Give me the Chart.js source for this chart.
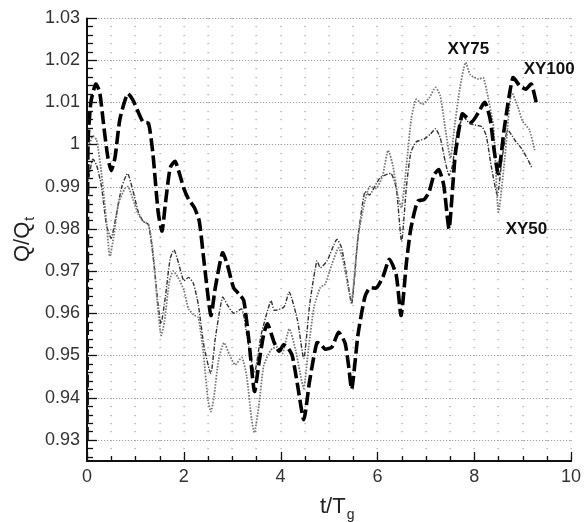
<!DOCTYPE html>
<html><head><meta charset="utf-8">
<script src="https://cdn.jsdelivr.net/npm/chart.js@4.4.1/dist/chart.umd.min.js"></script>
<style>html,body{margin:0;padding:0;background:#fff}#wrap{width:586px;height:522px}</style>
</head><body><div id="wrap"><canvas id="c" width="586" height="522"></canvas></div>
<script>
// ---- data ----
const seriesNames = ["XY100", "XY75", "XY50"];
const xy100T = [0,0.02,0.08,0.18,0.26,0.35,0.43,0.5,0.58,0.68,0.84,0.95,1.06,1.16,1.27,1.36,1.47,1.55,1.62,1.72,1.82,1.9,2.0,2.1,2.22,2.32,2.42,2.56,2.65,2.8,2.9,3.03,3.15,3.24,3.35,3.46,3.55,3.65,3.73,3.87,3.97,4.06,4.14,4.24,4.35,4.48,4.6,4.75,4.84,4.92,5.06,5.2,5.33,5.4,5.47,5.6,5.74,5.84,5.98,6.11,6.25,6.39,6.49,6.6,6.69,6.83,6.97,7.07,7.17,7.27,7.37,7.48,7.55,7.61,7.75,7.85,7.95,8.09,8.22,8.33,8.42,8.5,8.63,8.8,8.94,9.07,9.18,9.28];
const xy100Q = [0.93,1.0,1.01,1.0143,1.0125,1.004,0.997,0.9938,0.997,1.006,1.012,1.0105,1.0076,1.0053,1.005,0.998,0.984,0.9795,0.986,0.9945,0.996,0.9935,0.9896,0.987,0.985,0.9818,0.972,0.9595,0.966,0.9743,0.9715,0.966,0.9645,0.963,0.953,0.9415,0.948,0.955,0.9575,0.953,0.951,0.9525,0.952,0.950,0.943,0.9348,0.944,0.953,0.9525,0.9515,0.952,0.9555,0.953,0.948,0.942,0.955,0.9638,0.966,0.966,0.9685,0.9728,0.969,0.9595,0.972,0.980,0.9865,0.987,0.9888,0.9928,0.994,0.9904,0.980,0.989,0.9977,1.0072,1.0064,1.0053,1.0076,1.010,1.006,0.998,0.9931,1.0045,1.0158,1.0139,1.0131,1.0143,1.010];

const xy75T = [0,0.05,0.12,0.2,0.3,0.4,0.47,0.55,0.65,0.78,0.85,0.95,1.06,1.16,1.27,1.36,1.45,1.53,1.6,1.7,1.78,1.88,2.0,2.1,2.22,2.3,2.4,2.5,2.56,2.62,2.72,2.83,2.95,3.06,3.2,3.3,3.4,3.46,3.55,3.65,3.8,3.94,4.04,4.18,4.31,4.4,4.48,4.58,4.69,4.82,4.92,5.06,5.2,5.3,5.4,5.47,5.6,5.74,5.84,5.98,6.11,6.22,6.32,6.42,6.5,6.6,6.7,6.8,6.93,7.07,7.2,7.3,7.4,7.51,7.58,7.7,7.82,7.92,8.09,8.19,8.29,8.4,8.5,8.63,8.77,8.9,9.0,9.14,9.25];
const xy75Q = [0.998,1.0,1.002,1.001,0.993,0.982,0.9735,0.978,0.986,0.9895,0.990,0.987,0.9835,0.9818,0.981,0.975,0.963,0.9548,0.958,0.9675,0.970,0.9685,0.9655,0.961,0.9595,0.959,0.951,0.9395,0.9367,0.940,0.949,0.953,0.950,0.9478,0.9495,0.945,0.935,0.9317,0.938,0.9475,0.9513,0.952,0.9505,0.9563,0.9513,0.946,0.9422,0.952,0.9614,0.9661,0.9669,0.9716,0.9755,0.972,0.966,0.963,0.978,0.9865,0.990,0.9896,0.9927,0.9986,0.995,0.988,0.985,0.995,1.006,1.0107,1.0095,1.011,1.0135,1.0115,1.004,0.9967,1.003,1.013,1.0194,1.0165,1.0155,1.0158,1.011,1.004,0.984,0.9965,1.0123,1.009,1.0055,1.0035,0.9986];

const xy50T = [0,0.05,0.12,0.2,0.3,0.4,0.5,0.6,0.72,0.84,0.95,1.06,1.16,1.27,1.38,1.47,1.53,1.62,1.72,1.8,1.9,2.0,2.1,2.2,2.3,2.42,2.56,2.65,2.8,2.9,3.03,3.2,3.3,3.46,3.6,3.8,3.87,4.07,4.18,4.35,4.48,4.6,4.75,4.82,4.96,5.16,5.26,5.38,5.47,5.6,5.74,5.84,6.05,6.28,6.39,6.5,6.6,6.69,6.8,6.97,7.1,7.2,7.3,7.4,7.48,7.55,7.65,7.78,7.9,8.02,8.16,8.25,8.35,8.48,8.58,8.69,8.84,8.98,9.1,9.2];
const xy50Q = [0.99,0.993,0.9965,0.995,0.99,0.981,0.9778,0.983,0.99,0.9931,0.989,0.984,0.9818,0.981,0.972,0.962,0.9575,0.964,0.973,0.975,0.9715,0.9677,0.9685,0.967,0.962,0.952,0.9458,0.954,0.9638,0.962,0.960,0.961,0.955,0.946,0.955,0.963,0.9607,0.9615,0.965,0.9583,0.9493,0.962,0.9724,0.9708,0.9724,0.9775,0.9755,0.968,0.9622,0.978,0.9888,0.988,0.992,0.9931,0.9896,0.977,0.990,0.998,1.0006,1.0013,1.0025,1.0037,1.0015,0.996,0.9927,0.995,1.003,1.0065,1.005,1.0046,1.0042,1.002,0.995,0.988,0.997,1.0034,1.001,0.999,0.9966,0.9943];

const yTickValues = [0.93,0.94,0.95,0.96,0.97,0.98,0.99,1.0,1.01,1.02,1.03];
const xTickValues = [0,2,4,6,8,10];

// ---- build ----
const toPts = (T, Q) => T.map((t, i) => ({x: t, y: Q[i]}));
const FONT = "'Liberation Sans', Arial, sans-serif";

const decor = {
  id: 'decor',
  beforeDatasetsDraw(chart) {
    const {ctx, chartArea: a, scales: {x, y}} = chart;
    ctx.save();
    ctx.fillStyle = '#a0a0a0';
    for (let xv = 0.5; xv <= 10.001; xv += 0.5) {
      const px = Math.round(x.getPixelForValue(xv));
      for (let k = 0; k <= 60; k++) {
        const yv = 0.926 + k * 0.002;
        if (yv > 1.0301) break;
        const py = Math.round(y.getPixelForValue(yv));
        ctx.fillRect(px - 0.5, py, 1.2, 1.2);
      }
    }
    ctx.strokeStyle = '#a0a0a0';
    ctx.lineWidth = 1;
    ctx.setLineDash([1.2, 1.8]);
    yTickValues.forEach(v => {
      const py = Math.round(y.getPixelForValue(v)) + 0.5;
      ctx.beginPath(); ctx.moveTo(a.left + 2, py); ctx.lineTo(a.right, py); ctx.stroke();
    });
    ctx.restore();
  },
  afterDraw(chart) {
    const {ctx, chartArea: a, scales: {x, y}} = chart;
    ctx.save();
    ctx.strokeStyle = '#111';
    ctx.setLineDash([]);
    ctx.lineWidth = 2;
    ctx.beginPath();
    ctx.moveTo(a.left, y.getPixelForValue(1.03));
    ctx.lineTo(a.left, a.bottom);
    ctx.lineTo(x.getPixelForValue(10) + 1, a.bottom);
    ctx.stroke();
    ctx.lineWidth = 1.3;
    for (let k = 0; k <= 52; k++) {
      const yv = 0.926 + k * 0.002;
      if (yv > 1.0301) break;
      const major = Math.abs(yv * 100 - Math.round(yv * 100)) < 0.01;
      const py = Math.round(y.getPixelForValue(yv)) + 0.5;
      ctx.beginPath(); ctx.moveTo(a.left, py); ctx.lineTo(a.left + (major ? 10 : 6), py); ctx.stroke();
    }
    for (let xv = 0; xv <= 10.001; xv += 0.5) {
      const major = Math.abs(xv % 2) < 0.01;
      const px = Math.round(x.getPixelForValue(xv)) + 0.5;
      ctx.beginPath(); ctx.moveTo(px, a.bottom); ctx.lineTo(px, a.bottom - (major ? 9 : 5)); ctx.stroke();
    }
    ctx.fillStyle = '#111';
    ctx.font = 'bold 17px ' + FONT;
    ctx.textAlign = 'center'; ctx.textBaseline = 'middle';
    const labels = [["XY75", 7.88, 1.0225], ["XY100", 9.55, 1.0178], ["XY50", 9.08, 0.9799]];
    labels.forEach(([s, tv, qv]) => ctx.fillText(s, x.getPixelForValue(tv), y.getPixelForValue(qv)));
    ctx.fillStyle = '#222';
    ctx.textAlign = 'left'; ctx.textBaseline = 'alphabetic';
    ctx.font = '22px ' + FONT;
    const cx = (a.left + a.right) / 2 - 9;
    const w1 = ctx.measureText('t/T').width;
    ctx.fillText('t/T', cx, 513);
    ctx.font = '14px ' + FONT;
    ctx.fillText('g', cx + w1 + 1, 519);
    ctx.translate(29, 262);
    ctx.rotate(-Math.PI / 2);
    ctx.font = '22px ' + FONT;
    const w2 = ctx.measureText('Q/Q').width;
    ctx.fillText('Q/Q', 0, 0);
    ctx.font = '14px ' + FONT;
    ctx.fillText('t', w2 + 1, 5);
    ctx.restore();
  }
};

new Chart(document.getElementById('c'), {
  type: 'line',
  data: {
    datasets: [
      {label: seriesNames[0], data: toPts(xy100T, xy100Q), borderColor: '#000', borderWidth: 3.6, borderDash: [13, 4.5], pointRadius: 0, tension: 0.2},
      {label: seriesNames[1], data: toPts(xy75T, xy75Q), borderColor: '#777', borderWidth: 1.8, borderDash: [1.6, 1.4], pointRadius: 0, tension: 0.2},
      {label: seriesNames[2], data: toPts(xy50T, xy50Q), borderColor: '#333', borderWidth: 1.4, borderDash: [4.5, 1.6, 1.2, 1.6], pointRadius: 0, tension: 0.2}
    ]
  },
  options: {
    responsive: false, animation: false, devicePixelRatio: 1,
    layout: {padding: {top: 15, right: 9, left: 0, bottom: 0}},
    plugins: {legend: {display: false}, tooltip: {enabled: false}},
    scales: {
      x: {
        type: 'linear', min: 0, max: 10,
        grid: {display: false, drawTicks: false},
        border: {display: false},
        afterBuildTicks: s => { s.ticks = xTickValues.map(v => ({value: v})); },
        afterFit: s => { s.height = 61; },
        ticks: {padding: 5, color: '#333', font: {family: FONT, size: 18}, maxRotation: 0, callback: v => String(v)}
      },
      y: {
        type: 'linear', min: 0.925, max: 1.03,
        grid: {display: false, drawTicks: false},
        border: {display: false},
        afterBuildTicks: s => { s.ticks = yTickValues.map(v => ({value: v})); },
        afterFit: s => { s.width = 87; },
        ticks: {padding: 7, color: '#333', font: {family: FONT, size: 18}, callback: v => String(parseFloat(Number(v).toFixed(2)))}
      }
    }
  },
  plugins: [decor]
});
</script>
</body></html>
